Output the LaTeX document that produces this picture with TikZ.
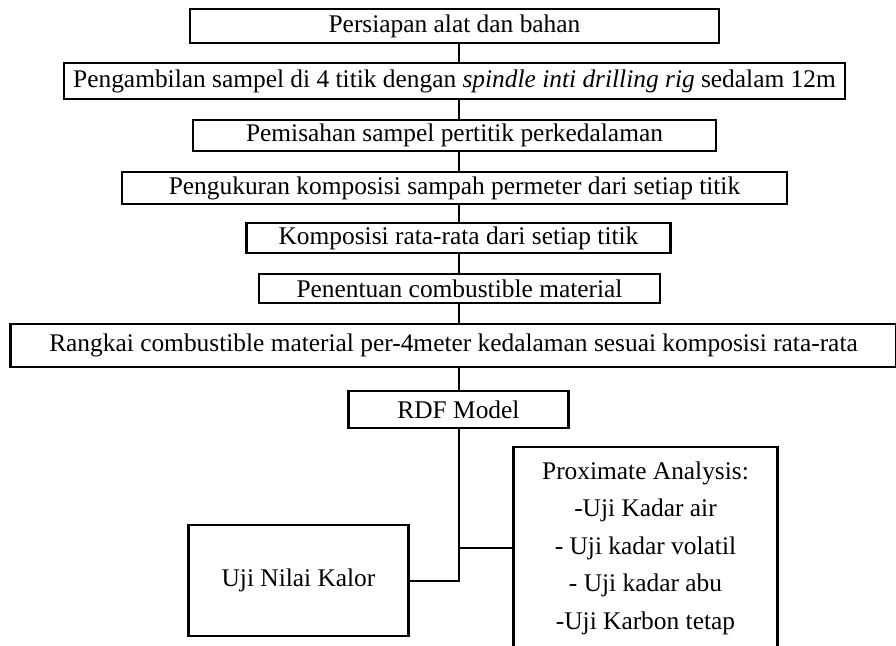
\documentclass[tikz,border=0pt]{standalone}
\usepackage{fontspec}
\setmainfont{Liberation Serif}
\usetikzlibrary{positioning}

\begin{document}
\begin{tikzpicture}[
      node distance=10pt,
      proses/.style={rectangle, draw, line width=1.3pt, text centered, inner sep=0pt, outer sep=0pt, font=\fontsize{12.7}{14}\selectfont},
      uji/.style={rectangle, draw, line width=1.3pt, align=center, inner sep=0pt, outer sep=0pt, font=\fontsize{12.7}{18.75}\selectfont},
      line/.style={draw, line width=1pt}
  ]
      % Page size
      \useasboundingbox (0,0) rectangle (448pt,-322.5pt);

      % Main steps, stacked vertically
      \node (persiapan) [proses, minimum width=264.5pt, minimum height=17pt] at (227.25pt,-13pt) {Persiapan alat dan bahan};
      \node (sampel) [proses, minimum width=390.5pt, minimum height=18pt, below=10pt of persiapan] {Pengambilan sampel di 4 titik dengan \textit{spindle inti drilling rig} sedalam 12m};
      \node (pemisahan) [proses, minimum width=261.5pt, minimum height=15.5pt, below=10.5pt of sampel] {Pemisahan sampel pertitik perkedalaman};
      \node (pengukuran) [proses, minimum width=332.5pt, minimum height=16pt, below=10.5pt of pemisahan] {Pengukuran komposisi sampah permeter dari setiap titik};
      \node (komposisi) [proses, minimum width=212pt, minimum height=15pt, below=9.5pt of pengukuran, xshift=2pt] {Komposisi rata-rata dari setiap titik};
      \node (penentuan) [proses, minimum width=200.5pt, minimum height=14.5pt, below=10.5pt of komposisi, xshift=0.5pt] {Penentuan combustible material};
      \node (rangkai) [proses, minimum width=443pt, minimum height=21.5pt, below=10.5pt of penentuan, xshift=-3pt] {Rangkai combustible material per-4meter kedalaman sesuai komposisi rata-rata};
      \node (rdf) [proses, minimum width=110pt, minimum height=18.5pt, below=12pt of rangkai, xshift=2.5pt] {RDF Model};

      % Tests after the model
      \node (kalor) [uji, minimum width=110pt, minimum height=55.5pt, below=48.5pt of rdf, xshift=-80pt] {Uji Nilai Kalor};
      \node (proximate) [uji, minimum width=132pt, minimum height=101pt, below=9.5pt of rdf, xshift=93.5pt] {Proximate Analysis:\\-Uji Kadar air\\- Uji kadar volatil\\- Uji kadar abu\\-Uji Karbon tetap};

      % Connections
      \path [line] (persiapan.south -| rdf) -- (sampel.north -| rdf);
      \path [line] (sampel.south -| rdf) -- (pemisahan.north -| rdf);
      \path [line] (pemisahan.south -| rdf) -- (pengukuran.north -| rdf);
      \path [line] (pengukuran.south -| rdf) -- (komposisi.north -| rdf);
      \path [line] (komposisi.south -| rdf) -- (penentuan.north -| rdf);
      \path [line] (penentuan.south -| rdf) -- (rangkai.north -| rdf);
      \path [line] (rangkai.south -| rdf) -- (rdf.north);
      \path [line] (rdf.south) |- (kalor.east);
      \path [line] (rdf.south |- proximate.west) -- (proximate.west);
  \end{tikzpicture}
\end{document}
